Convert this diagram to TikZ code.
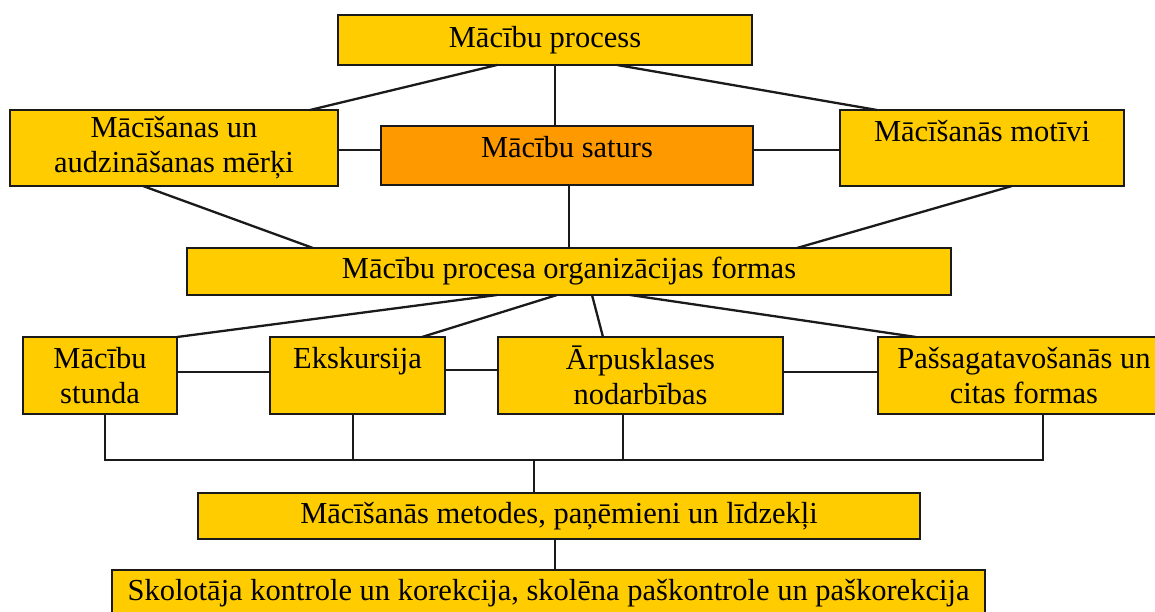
\documentclass[tikz,border=0pt]{standalone}
\usepackage{fontspec}
\setmainfont{Liberation Serif}
\usetikzlibrary{calc}
\definecolor{boxyellow}{HTML}{FFCC00}
\definecolor{boxorange}{HTML}{FF9900}
\definecolor{edgegray}{HTML}{1A1A1A}
\begin{document}
\begin{tikzpicture}[x=1pt,y=-1pt,
  box/.style={draw=edgegray, line width=2.6pt, fill=boxyellow, inner sep=0pt, outer sep=0pt,
    align=center, font=\fontsize{30.5}{35}\selectfont, text=black},
  link/.style={draw=edgegray, line width=2.3pt}]
\useasboundingbox (0,0) rectangle (1155,612);
\fill[white] (0,0) rectangle (1155,612);
% boxes
\node[box, minimum width=414pt, minimum height=50pt] (A) at (545,40) {Mācību process};
\node[box, minimum width=328pt, minimum height=76pt] (B) at (174,148) {Mācīšanas un\\audzināšanas mērķi};
\node[box, fill=boxorange, minimum width=372pt, minimum height=59pt] (C) at (567,155.5) {\raisebox{8pt}[\height][\depth]{Mācību saturs}};
\node[box, minimum width=284pt, minimum height=76pt] (D) at (982,148) {Mācīšanās motīvi\\\mbox{}};
\node[box, minimum width=764pt, minimum height=47pt] (E) at (569,271.5) {Mācību procesa organizācijas formas};
\node[box, minimum width=154pt, minimum height=77pt] (F) at (100,375.5) {Mācību\\stunda};
\node[box, minimum width=175pt, minimum height=77pt] (G) at (357.5,375.5) {Ekskursija\\\mbox{}};
\node[box, minimum width=285pt, minimum height=77pt] (H) at (640.5,375.5) {Ārpusklases\\nodarbības};
\node[box, minimum width=292pt, minimum height=77pt] (I) at (1024,375.5) {Pašsagatavošanās un\\citas formas};
\node[box, minimum width=722pt, minimum height=46pt] (J) at (559,516) {Mācīšanās metodes, paņēmieni un līdzekļi};
\node[box, minimum width=873pt, minimum height=46pt] (K) at (548.5,593) {Skolotāja kontrole un korekcija, skolēna paškontrole un paškorekcija};
% top connectors
\draw[link] ($(A.south west)+(159,0)$) -- ($(B.north east)+(-28,0)$);
\draw[link] ($(A.south west)+(217,0)$) -- ($(C.north west)+(174,0)$);
\draw[link] ($(A.south west)+(279,0)$) -- ($(D.north west)+(37,0)$);
\draw[link] ($(B.east)+(0,2)$) -- ($(C.west)+(0,-5.5)$);
\draw[link] ($(C.east)+(0,-5.5)$) -- ($(D.west)+(0,2)$);
\draw[link] ($(B.south west)+(133,0)$) -- ($(E.north west)+(126,0)$);
\draw[link] ($(C.south west)+(188,0)$) -- ($(E.north west)+(382,0)$);
\draw[link] ($(D.south west)+(172,0)$) -- ($(E.north west)+(610,0)$);
% organisation forms
\draw[link] ($(E.south west)+(310,0)$) -- (F.north east);
\draw[link] ($(E.south west)+(370,0)$) -- ($(G.north west)+(152,0)$);
\draw[link] ($(E.south west)+(405,0)$) -- ($(H.north west)+(105,0)$);
\draw[link] ($(E.south west)+(443,0)$) -- ($(I.north west)+(38,0)$);
\draw[link] ($(F.east)+(0,-3.5)$) -- ($(G.west)+(0,-3.5)$);
\draw[link] ($(G.east)+(0,-5.5)$) -- ($(H.west)+(0,-5.5)$);
\draw[link] ($(H.east)+(0,-3.5)$) -- ($(I.west)+(0,-3.5)$);
% bus
\coordinate (fdrop) at ($(F.south)+(5,0)$);
\coordinate (gdrop) at ($(G.south)+(-4.5,0)$);
\coordinate (hdrop) at ($(H.south)+(-17.5,0)$);
\coordinate (idrop) at ($(I.south)+(19,0)$);
\coordinate (bus) at (534,460);
\draw[link] (fdrop) -- (fdrop |- bus) -- (idrop |- bus) -- (idrop);
\draw[link] (gdrop) -- (gdrop |- bus);
\draw[link] (hdrop) -- (hdrop |- bus);
\draw[link] (bus) -- (bus |- J.north);
\draw[link] ($(J.south west)+(357,0)$) -- ($(K.north west)+(443,0)$);
\end{tikzpicture}
\end{document}
